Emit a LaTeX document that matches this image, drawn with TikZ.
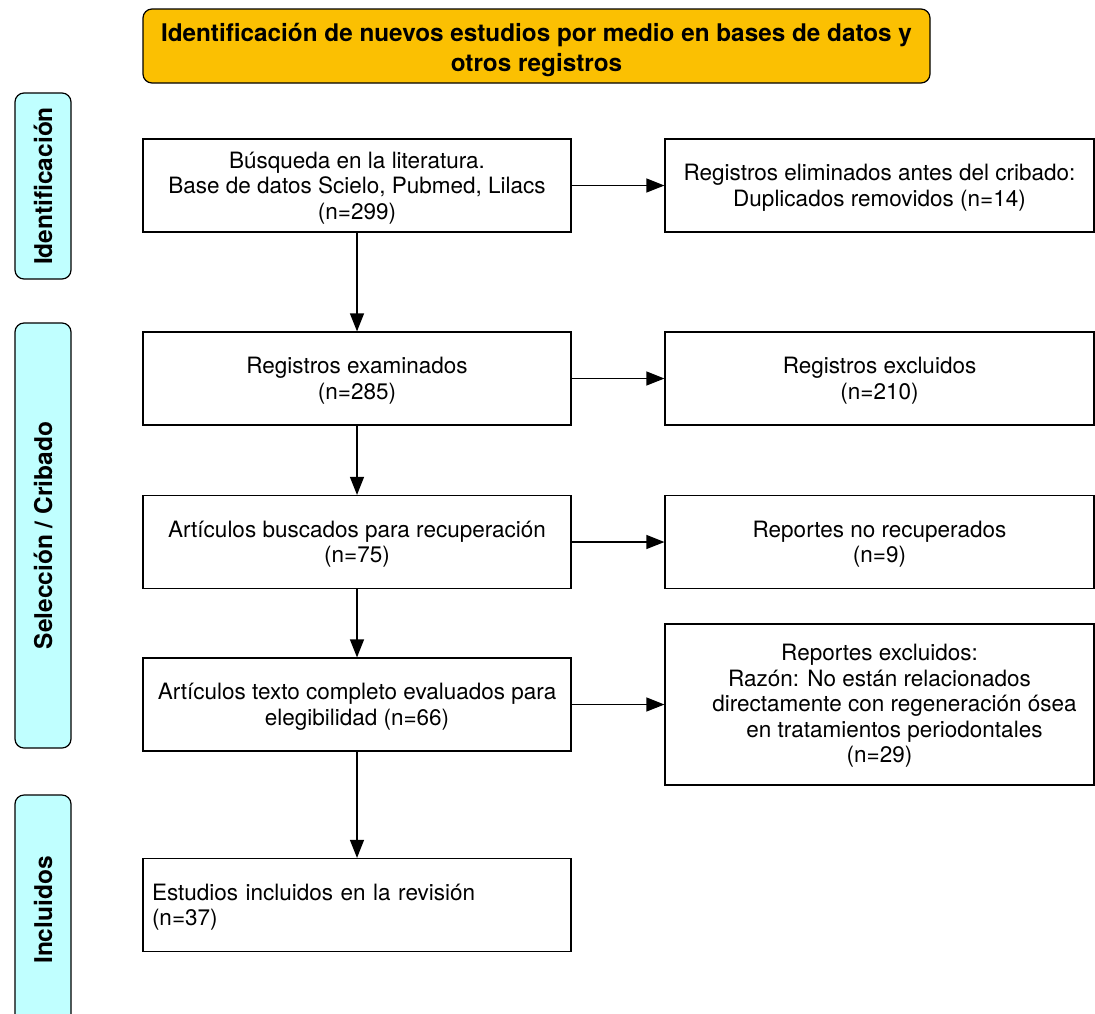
\documentclass[tikz,border=0pt]{standalone}
\usepackage{fontspec}
\setmainfont{TeX Gyre Heros}
\usetikzlibrary{arrows.meta}
\definecolor{titlefill}{RGB}{251,192,2}
\definecolor{sidefill}{RGB}{192,255,255}
\newcommand{\bxc}[2][3pt]{\raisebox{-#1}[\height][\depth]{\begin{tabular}{@{}c@{}}#2\end{tabular}}}
\newcommand{\bxl}[2][3pt]{\raisebox{-#1}[\height][\depth]{\begin{tabular}{@{}l@{}}#2\end{tabular}}}
\begin{document}
\begin{tikzpicture}[x=1pt,y=-1pt,
  box/.style={draw, line width=1.2pt, fill=white, minimum width=428pt, minimum height=93pt,
    font=\fontsize{22.5}{25.5}\selectfont, inner sep=4pt},
  titlebox/.style={draw, line width=1.2pt, fill=titlefill, rounded corners=9pt,
    minimum width=787pt, minimum height=74pt,
    font=\fontsize{24.3}{30}\selectfont\bfseries},
  sidebox/.style={draw, line width=1.2pt, fill=sidefill, rounded corners=9pt,
    minimum height=56pt, rotate=90, font=\fontsize{24.5}{26}\selectfont\bfseries},
  arr/.style={line width=1.2pt, -{Triangle[length=18pt,width=14pt]}}
]
\useasboundingbox (0,0) rectangle (1095,1013);

% title
\node[titlebox] (T) at (536.5,46) {\bxc[4pt]{Identificación de nuevos estudios por medio en bases de datos y\\otros registros}};

% side labels
\node[sidebox, minimum width=186pt] (S1) at (43,186) {Identificación};
\node[sidebox, minimum width=425pt] (S2) at (43,535.5) {Selección / Cribado};
\node[sidebox, minimum width=230pt] (S3) at (43,910) {Incluidos};

% left column
\node[box] (A) at (357,185.5) {\bxc{Búsqueda en la literatura.\\Base de datos Scielo, Pubmed, Lilacs\\(n=299)}};
\node[box] (C) at (357,378.5) {\bxc{Registros examinados\\(n=285)}};
\node[box] (E) at (357,542) {\bxc{Artículos buscados para recuperación\\(n=75)}};
\node[box] (G) at (357,704.5) {\bxc{Artículos texto completo evaluados para\\elegibilidad (n=66)}};
\node[box, text width=410pt, inner xsep=9pt] (I) at (357,905) {\bxl{Estudios incluidos en la revisión\\(n=37)}};

% right column
\node[box, minimum width=429pt] (B) at (879.5,185.5) {\bxc{Registros eliminados antes del cribado:\\Duplicados removidos (n=14)}};
\node[box, minimum width=429pt] (D) at (879.5,378.5) {\bxc{Registros excluidos\\(n=210)}};
\node[box, minimum width=429pt] (F) at (879.5,542) {\bxc{Reportes no recuperados\\(n=9)}};
\node[box, minimum width=429pt, minimum height=161pt] (H) at (879.5,704.5) {\bxc[2pt]{Reportes excluidos:\\Razón: No están relacionados\\\hspace*{30pt}directamente con regeneración ósea\\\hspace*{30pt}en tratamientos periodontales\\(n=29)}};

% connectors
\draw[arr] (A) -- (C);
\draw[arr] (C) -- (E);
\draw[arr] (E) -- (G);
\draw[arr] (G) -- (I);
\draw[arr] (A) -- (B);
\draw[arr] (C) -- (D);
\draw[arr] (E) -- (F);
\draw[arr] (G) -- (H);
\end{tikzpicture}
\end{document}
